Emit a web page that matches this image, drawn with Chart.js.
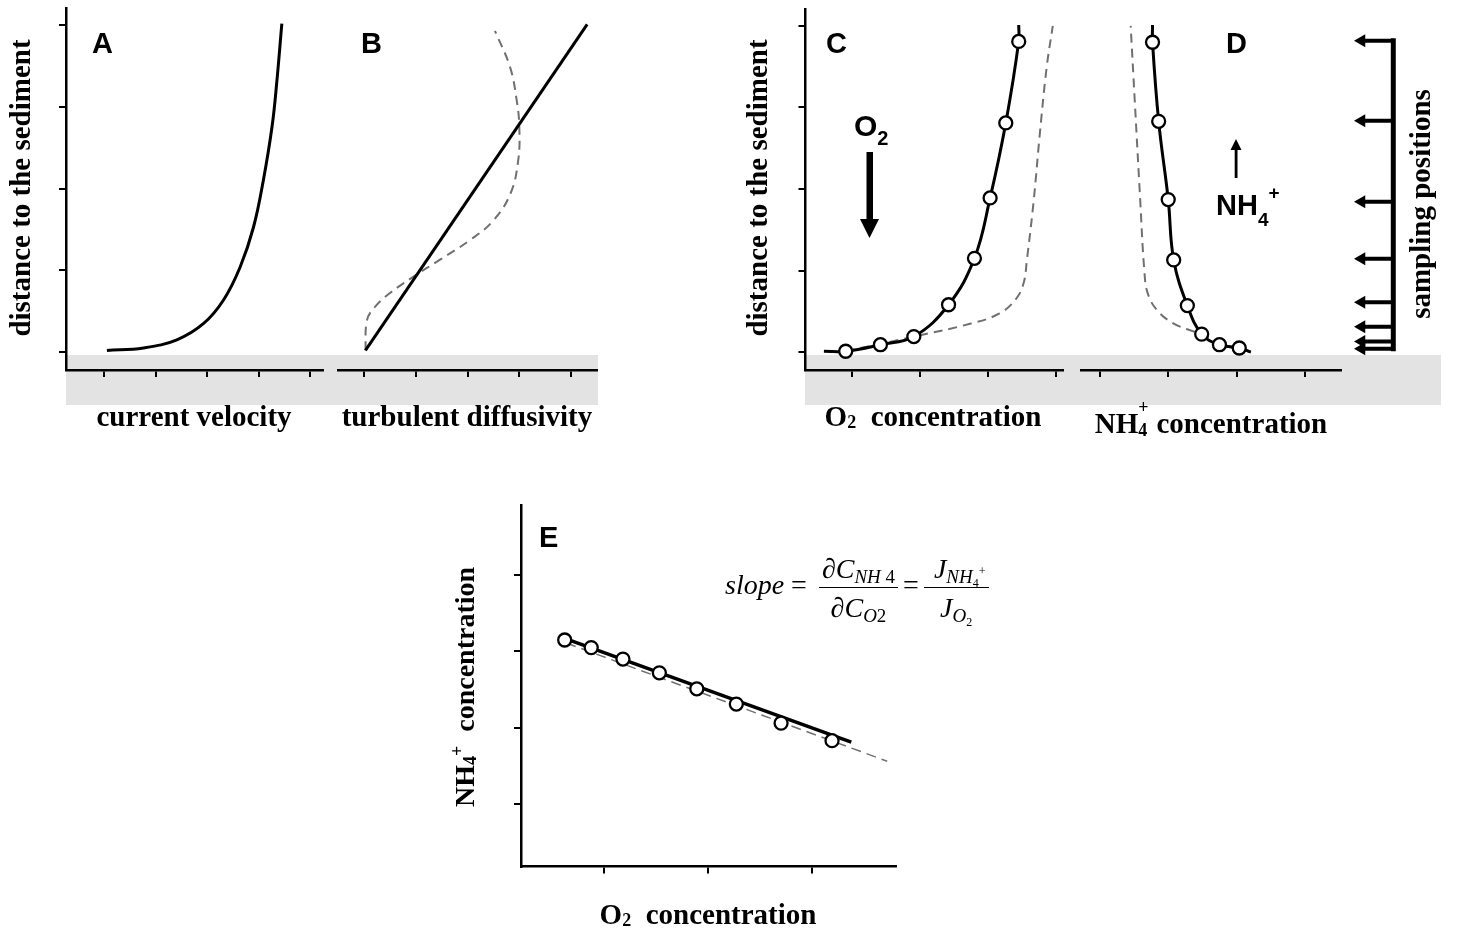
<!DOCTYPE html>
<html>
<head>
<meta charset="utf-8">
<script src="https://cdn.jsdelivr.net/npm/chart.js@4.4.1/dist/chart.umd.min.js"></script>
<style>
  body { margin: 0; background: #fff; width: 1462px; height: 937px; position: relative; overflow: hidden; }
  canvas { position: absolute; left: 0; top: 0; }
  .band { position: absolute; background: #e3e3e3; }
  .lbl { position: absolute; font: bold 29px "Liberation Serif"; line-height: 1; white-space: nowrap; transform: translate(-50%, -50%); }
  .lbl.up { transform: translate(-50%, -50%) rotate(-90deg); }
  .lbl sub, .lbl sup { font-size: 18px; line-height: 0; position: relative; vertical-align: baseline; }
  .lbl sub { top: 2px; }
  .ss { position: relative; display: inline-block; width: 11px; height: 29px; }
  .ss span { position: absolute; left: 0; font-size: 18px; line-height: 1; }
  .ss .hi { top: -6px; }
  .ss .lo { top: 17px; }
  .pl { position: absolute; font: bold 29px "Liberation Sans"; line-height: 1; white-space: nowrap; }
  #eq { position: absolute; display: flex; align-items: flex-start; font: 28px "Liberation Serif"; line-height: 1; white-space: nowrap; }
  .mid { margin-top: 16px; }
  .frac { display: inline-flex; flex-direction: column; align-items: center; margin: 0 5px; }
  .num { border-bottom: 1.5px solid #000; padding: 0 3px 4px; }
  .den { padding: 6px 3px 0; }
  .s1 { font-size: 19px; position: relative; top: 5px; }
  .s2 { font-size: 12px; position: relative; top: 4px; }
  .s3 { font-size: 12px; position: relative; top: -8px; }
</style>
</head>
<body>
<div class="band" style="left:66px;top:355px;width:532px;height:50px"></div>
<div class="band" style="left:805px;top:355px;width:636px;height:50px"></div>

<canvas id="chartA" width="1462" height="937"></canvas>
<canvas id="chartB" width="1462" height="937"></canvas>
<canvas id="chartC" width="1462" height="937"></canvas>
<canvas id="chartD" width="1462" height="937"></canvas>
<canvas id="chartS" width="1462" height="937"></canvas>
<canvas id="chartE" width="1462" height="937"></canvas>

<svg width="1462" height="937" style="position:absolute;left:0;top:0">
  <rect x="866.5" y="152" width="6.5" height="68" fill="#000"/>
  <polygon points="860,219 879,219 869.5,238" fill="#000"/>
  <rect x="1234.7" y="147" width="2.8" height="31" fill="#000"/>
  <polygon points="1230.5,150 1241.5,150 1236,139" fill="#000"/>
</svg>

<div class="pl" style="left:92px;top:28.5px">A</div>
<div class="pl" style="left:361px;top:28.5px">B</div>
<div class="pl" style="left:826px;top:28.5px">C</div>
<div class="pl" style="left:1226px;top:28.5px">D</div>
<div class="pl" style="left:539px;top:522.5px">E</div>
<div class="pl" style="left:854px;top:111px;font-size:30px">O<span style="font-size:20px;position:relative;top:9px">2</span></div>
<div class="pl" style="left:1216px;top:190.5px">NH<span style="font-size:19px;position:relative;top:11px">4</span><span style="font-size:19px;position:relative;top:-16px">+</span></div>

<div class="lbl up" style="left:20px;top:188px">distance to the sediment</div>
<div class="lbl up" style="left:757px;top:188px">distance to the sediment</div>
<div class="lbl up" style="left:1420px;top:204px">sampling positions</div>
<div class="lbl" style="left:194px;top:416px">current velocity</div>
<div class="lbl" style="left:467px;top:416px">turbulent diffusivity</div>
<div class="lbl" style="left:933px;top:416px">O<sub>2</sub>&nbsp; concentration</div>
<div class="lbl" style="left:1211px;top:421px">NH<span class="ss"><span class="hi">+</span><span class="lo">4</span></span> concentration</div>
<div class="lbl" style="left:708px;top:914px">O<sub>2</sub>&nbsp; concentration</div>
<div class="lbl up" style="left:465px;top:687px;font-size:28px">NH<sub>4</sub><sup style="top:-11px">+</sup>&nbsp; concentration</div>

<div id="eq" style="left:725px;top:555px">
  <span class="mid"><i>slope</i>&nbsp;=&nbsp;</span><span class="frac"><span class="num"><i>∂C</i><span class="s1"><i>NH</i> 4</span></span><span class="den"><i>∂C</i><span class="s1"><i>O</i>2</span></span></span><span class="mid">=</span><span class="frac"><span class="num">&nbsp;<i>J</i><span class="s1"><i>NH</i><span class="s2">4</span><span class="s3">+</span></span></span><span class="den"><i>J</i><span class="s1"><i>O</i><span class="s2">2</span></span></span></span>
</div>

<script>
// A: current velocity profile
const depthA = [0.02, 0.05, 0.15, 0.35, 0.64, 1.04, 1.53, 2.10, 2.76, 3.29, 4.02];
const velocityA = [0.05, 0.76, 1.41, 1.93, 2.32, 2.64, 2.90, 3.09, 3.26, 3.35, 3.45];

// B: turbulent diffusivity, linear and measured-like (dashed)
const depthBLine = [0.02, 4.01];
const diffusivityLine = [0.03, 4.31];
const depthBDash = [0.02, 0.39, 0.55, 0.72, 0.92, 1.13, 1.37, 1.61, 1.94, 2.35, 2.76, 3.08, 3.49, 3.93];
const diffusivityDash = [0.03, 0.06, 0.21, 0.50, 0.95, 1.47, 2.05, 2.50, 2.83, 2.98, 3.00, 2.95, 2.82, 2.53];

// C: O2 profile
const depthC = [0.01, 0.09, 0.19, 0.58, 1.15, 1.89, 2.81, 3.81];
const o2C = [-0.09, 0.42, 0.91, 1.42, 1.80, 2.03, 2.26, 2.45];
const depthCEnds = [0.01, 4.01];
const o2CEnds = [-0.41, 2.45];
const depthCModel = [0.01, 0.19, 0.35, 0.47, 0.64, 0.84, 1.13, 1.86, 2.68, 3.49, 4.00];
const o2Model = [-0.09, 0.91, 1.75, 2.16, 2.40, 2.52, 2.57, 2.67, 2.76, 2.86, 2.95];

// D: NH4+ profile
const depthD = [0.05, 0.09, 0.22, 0.57, 1.13, 1.87, 2.83, 3.80];
const nh4D = [2.04, 1.75, 1.49, 1.28, 1.08, 1.00, 0.86, 0.77];
const depthDEnds = [0.00, 4.01];
const nh4DEnds = [2.21, 0.77];
const depthDModel = [0.00, 0.08, 0.19, 0.25, 0.35, 0.51, 0.72, 1.00, 1.86, 3.08, 4.00];
const nh4Model = [2.21, 1.83, 1.56, 1.38, 1.08, 0.84, 0.70, 0.65, 0.59, 0.51, 0.45];

// sampling positions
const samplingDepth = [0.04, 0.13, 0.31, 0.61, 1.14, 1.84, 2.83, 3.81];

// E: NH4+ vs O2
const o2E = [0.62, 0.875, 1.18, 1.53, 1.89, 2.27, 2.70, 3.19];
const nh4E = [3.15, 3.05, 2.90, 2.72, 2.51, 2.31, 2.06, 1.83];
const fitX = [0.62, 3.375];
const fitY = [3.17, 1.81];
const modelX = [0.635, 3.72];
const modelY = [3.11, 1.56];

// tick positions
const depthTicks = [0, 1, 2, 3, 4];
const velocityTicks = [0, 1, 2, 3, 4];
const diffusivityTicks = [0, 1, 2, 3, 4];
const o2Ticks = [0, 1, 2, 3];
const nh4Ticks = [0, 1, 2, 3];
const o2ETicks = [1, 2, 3];
const nh4ETicks = [1, 2, 3, 4];

const W = 1462, H = 937, TICK = 7;
const GRAY = '#707070';

const pts = (xs, ys) => xs.map((x, i) => ({ x: x, y: ys[i] }));

function curve(data, extra) {
  return Object.assign({
    data: data, showLine: true, pointRadius: 0, borderColor: '#000',
    borderWidth: 3, tension: 0.4, fill: false
  }, extra || {});
}
function dashed(data) {
  return curve(data, { borderColor: GRAY, borderWidth: 2, borderDash: [9, 6] });
}
function circles(data, r) {
  return {
    data: data, showLine: false, pointRadius: r, pointBorderWidth: 2.3,
    pointBorderColor: '#000', pointBackgroundColor: '#fff'
  };
}

function axis(min, max, ticks) {
  return {
    display: true, min: min, max: max,
    afterBuildTicks: s => { s.ticks = ticks.map(v => ({ value: v })); },
    ticks: { display: false },
    grid: { drawOnChartArea: false, drawTicks: true, tickLength: TICK, lineWidth: 2, color: '#000' },
    border: { display: true, width: 2.5, color: '#000' }
  };
}
function hidden(min, max) {
  return { display: false, min: min, max: max };
}

// area = [left, top, right, bottom] of the plotting area in page pixels
function panel(id, area, xAxis, yAxis, datasets) {
  return new Chart(document.getElementById(id), {
    type: 'scatter',
    data: { datasets: datasets },
    options: {
      responsive: false, animation: false, events: [], devicePixelRatio: 1,
      layout: {
        padding: {
          left: area[0] - (yAxis.display ? TICK : 0),
          top: area[1],
          right: W - area[2],
          bottom: H - area[3] - (xAxis.display ? TICK : 0)
        }
      },
      plugins: { legend: { display: false }, tooltip: { enabled: false } },
      scales: { x: xAxis, y: yAxis }
    }
  });
}

const DMIN = -0.22, DMAX = 4.21;

panel('chartA', [66, 8, 323, 370],
  axis(-0.745, 4.25, velocityTicks), axis(DMIN, DMAX, depthTicks),
  [curve(pts(velocityA, depthA))]);

panel('chartB', [338, 8, 597, 370],
  axis(-0.5, 4.5, diffusivityTicks), hidden(DMIN, DMAX),
  [curve(pts(diffusivityLine, depthBLine), { tension: 0 }),
   dashed(pts(diffusivityDash, depthBDash))]);

panel('chartC', [805.5, 8, 1063, 370],
  axis(-0.68, 3.10, o2Ticks), axis(DMIN, DMAX, depthTicks),
  [circles(pts(o2C, depthC), 6.5),
   curve(pts([o2CEnds[0]].concat(o2C, [o2CEnds[1]]), [depthCEnds[0]].concat(depthC, [depthCEnds[1]]))),
   dashed(pts(o2Model, depthCModel))]);

panel('chartD', [1081.5, 8, 1341, 370],
  axis(-0.27, 3.53, nh4Ticks), hidden(DMIN, DMAX),
  [circles(pts(nh4D, depthD), 6.5),
   curve(pts([nh4DEnds[0]].concat(nh4D, [nh4DEnds[1]]), [depthDEnds[0]].concat(depthD, [depthDEnds[1]]))),
   dashed(pts(nh4Model, depthDModel))]);

// sampling arrows: x scale is 1 unit per pixel across the strip
const spineX = 53.3, headX = 21.5, headR = 7.5;
const samplingSets = samplingDepth.map(d => curve(pts([spineX, headX], [d, d]), {
  tension: 0, borderWidth: 4, pointRadius: [0, headR], pointStyle: 'triangle',
  pointRotation: -90, pointBackgroundColor: '#000', pointBorderWidth: 0
}));
samplingSets.push(curve(pts([spineX, spineX], [Math.min(...samplingDepth), Math.max(...samplingDepth)]),
  { tension: 0, borderWidth: 5, borderCapStyle: 'square' }));
panel('chartS', [1340, 8, 1440, 370], hidden(0, 100), hidden(DMIN, DMAX), samplingSets);

panel('chartE', [521, 505, 895.5, 866.5],
  axis(0.20, 3.80, o2ETicks), axis(0.18, 4.92, nh4ETicks),
  [circles(pts(o2E, nh4E), 6.5),
   curve(pts(fitX, fitY), { tension: 0, borderWidth: 3.5 }),
   curve(pts(modelX, modelY), { tension: 0, borderColor: GRAY, borderWidth: 1.5, borderDash: [10, 6] })]);
</script>
</body>
</html>
